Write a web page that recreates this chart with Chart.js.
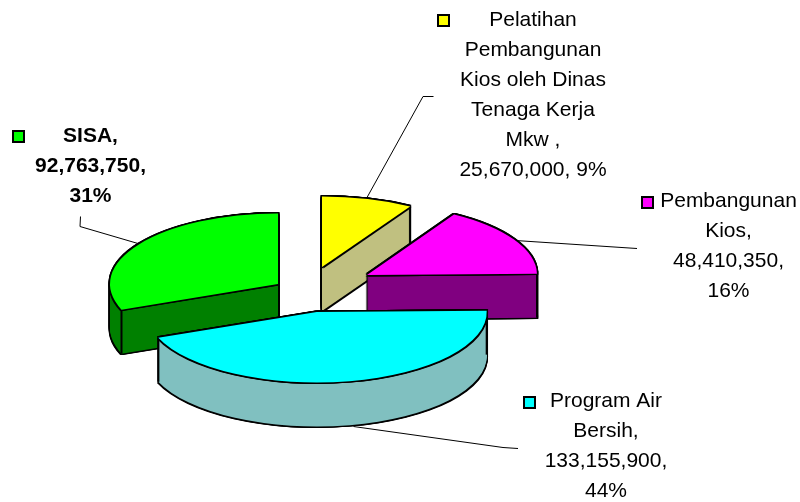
<!DOCTYPE html>
<html>
<head>
<meta charset="utf-8">
<style>html,body{margin:0;padding:0;background:#fff}canvas{display:block}</style>
<script src="https://cdn.jsdelivr.net/npm/chart.js@4"></script>
</head>
<body>
<canvas id="c" width="800" height="502"></canvas>
<script>
const categories = ['Pelatihan Pembangunan Kios oleh Dinas Tenaga Kerja Mkw', 'Pembangunan Kios', 'Program Air Bersih', 'SISA'];
const values = [25670000, 48410350, 133155900, 92763750];
const faceColors = ['#FFFF00', '#FF00FF', '#00FFFF', '#00FF00'];
const wallColors = ['#C0C080', '#800080', '#80C0C0', '#008000'];
const labelLines = [
  ['Pelatihan', 'Pembangunan', 'Kios oleh Dinas', 'Tenaga Kerja', 'Mkw ,', '25,670,000, 9%'],
  ['Pembangunan', 'Kios,', '48,410,350,', '16%'],
  ['Program Air', 'Bersih,', '133,155,900,', '44%'],
  ['SISA,', '92,763,750,', '31%']
];
const labelCenters = [[533, 26], [728.5, 207], [606, 407], [90.5, 142]];
const labelBold = [false, false, false, true];
const labelKeys = [[437, 14], [641, 196], [523, 396], [12, 130]];
const leaders = [
  [[433, 96], [423, 96], [367, 197]],
  [[515, 240], [637, 248]],
  [[353, 426], [503, 447], [518, 448]],
  [[80, 216], [80, 226], [138, 243]]
];
const sliceApex = [[322, 267], [367, 275], [316.7, 312], [278, 284]];
const sliceStretch = [1.024, 1.012, 1.012, 1];
const drawOrder = [0, 1, 3, 2];
const TILT = 0.42, DEPTH = 44, LINE_H = 30, FONT = 21, EDGE = 1.4;

function arcStyle(color) {
  return {backgroundColor: color, borderColor: color, borderWidth: 0, borderAlign: 'center', offset: 0, spacing: 0,
          borderRadius: 0, borderJoinStyle: 'round', circular: true, selfJoin: false};
}
function paint(ctx, el, i, color, dx, dy) {
  const saved = el.options;
  el.options = arcStyle(color);
  ctx.save();
  ctx.translate(sliceApex[i][0] + dx, sliceApex[i][1] + dy);
  ctx.scale(sliceStretch[i], TILT);
  ctx.translate(-el.x, -el.y);
  el.draw(ctx);
  ctx.restore();
  el.options = saved;
}
const pie3d = {
  id: 'pie3d',
  beforeDatasetsDraw(chart) {
    const ctx = chart.ctx;
    const arcs = chart.getDatasetMeta(0).data;
    ctx.save();
    ctx.strokeStyle = '#000';
    ctx.lineWidth = 1;
    leaders.forEach(pts => {
      ctx.beginPath();
      pts.forEach((p, k) => k ? ctx.lineTo(p[0], p[1] + .5) : ctx.moveTo(p[0] + .5, p[1] + .5));
      ctx.stroke();
    });
    ctx.restore();
    drawOrder.forEach(i => {
      const el = arcs[i];
      // silhouette of the extruded wall
      for (let d = -EDGE; d <= DEPTH + EDGE; d += 1) for (const dx of [-EDGE, 0, EDGE]) paint(ctx, el, i, '#000', dx, d);
      for (const dx of [-EDGE, 0, EDGE]) paint(ctx, el, i, '#000', dx, DEPTH + EDGE);
      // wall
      for (let d = DEPTH; d >= 1; d--) paint(ctx, el, i, wallColors[i], 0, d);
      // wall edges at the ends of the rim
      ctx.save();
      ctx.strokeStyle = '#000';
      ctx.lineWidth = 2;
      for (const a of [el.startAngle, el.endAngle]) {
        const x = sliceApex[i][0] + sliceStretch[i] * el.outerRadius * Math.cos(a);
        const y = sliceApex[i][1] + TILT * el.outerRadius * Math.sin(a);
        ctx.beginPath(); ctx.moveTo(x, y); ctx.lineTo(x, y + DEPTH); ctx.stroke();
      }
      ctx.restore();
      // outlined top face
      const e = EDGE;
      for (const [dx, dy] of [[-e,-e],[0,-e],[e,-e],[-e,0],[e,0],[-e,e],[0,e],[e,e]]) paint(ctx, el, i, '#000', dx, dy);
      paint(ctx, el, i, faceColors[i], 0, 0);
    });
    // labels and legend keys
    ctx.save();
    ctx.textAlign = 'center';
    ctx.textBaseline = 'alphabetic';
    labelLines.forEach((lines, i) => {
      ctx.fillStyle = '#000';
      ctx.font = (labelBold[i] ? 'bold ' : '') + FONT + 'px "Liberation Sans", Arial, sans-serif';
      lines.forEach((t, k) => ctx.fillText(t, labelCenters[i][0], labelCenters[i][1] + k * LINE_H));
      const [kx, ky] = labelKeys[i];
      ctx.fillStyle = '#000';
      ctx.fillRect(kx, ky, 13, 13);
      ctx.fillStyle = faceColors[i];
      ctx.fillRect(kx + 2, ky + 2, 9, 9);
    });
    ctx.restore();
    return false;
  }
};
new Chart(document.getElementById('c'), {
  type: 'pie',
  data: {labels: categories, datasets: [{data: values, backgroundColor: faceColors, borderWidth: 0}]},
  options: {
    responsive: false,
    animation: false,
    radius: 168,
    rotation: 0,
    layout: {padding: 0},
    plugins: {legend: {display: false}, tooltip: {enabled: false}, title: {display: false}}
  },
  plugins: [pie3d]
});
</script>
</body>
</html>
